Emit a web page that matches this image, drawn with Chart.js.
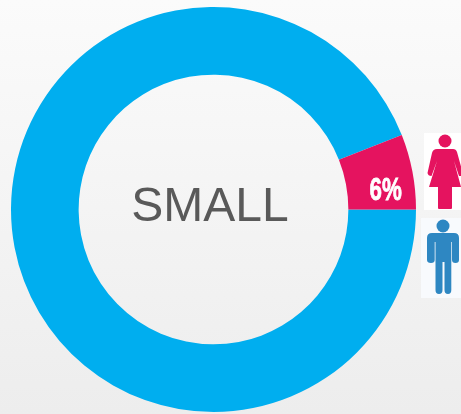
<!DOCTYPE html>
<html>
<head>
<meta charset="utf-8">
<script src="https://cdn.jsdelivr.net/npm/chart.js@4/dist/chart.umd.min.js"></script>
<style>
  html, body { margin: 0; padding: 0; }
  body { width: 461px; height: 414px; overflow: hidden; position: relative;
         background: linear-gradient(#fbfbfb, #ededed); }
  canvas { position: absolute; left: 0; top: 0; }
  .icon { position: absolute; display: block; }
</style>
</head>
<body>
<canvas id="ringChart" width="461" height="414"></canvas>

<!-- woman icon -->
<svg class="icon" style="left:424px;top:133px" width="37" height="77" viewBox="0 0 37 77">
  <rect width="37" height="77" fill="#ffffff"/>
  <g fill="#e5135f">
    <circle cx="21" cy="8" r="6.5"/>
    <path d="M13 16 H29 Q32 16 33 19 L38 37 L37 43 L35 43 L30 28 L37 54 H28 V75 Q28 76 27 76 H15 Q14 76 14 75 V54 H5 L13 28 L7.500 43 Q4 43 3.500 40 L8 20 Q9 16 13 16 Z"/>
  </g>
</svg>

<!-- man icon -->
<svg class="icon" style="left:421px;top:218px" width="40" height="80" viewBox="0 0 40 80">
  <rect width="40" height="80" fill="#f8fafd"/>
  <g fill="#2e87c2">
    <circle cx="22" cy="8" r="6.5"/>
    <path d="M11 15 H33 Q38 15 38 20 V42 Q38 45 34.500 45 Q31 45 31 42 V24 H30.300 V72 Q30.300 76 27 76 Q23.500 76 23.500 72 V44 H21.500 V72 Q21.500 76 18 76 Q14.500 76 14.500 72 V24 H13.700 V42 Q13.700 45 10 45 Q6 45 6 42 V20 Q6 15 11 15 Z"/>
  </g>
</svg>

<script>
const labels = ['Other', 'Women'];
const shares = [94, 6];
const sliceColors = ['#00aeef', '#e5135f'];
const centerTitle = 'SMALL';
const shareLabel = '6%';

// writes the size in the hole and the percentage on the pink slice
const ringText = {
  id: 'ringText',
  afterDatasetsDraw(chart) {
    const ctx = chart.ctx;
    const arc = chart.getDatasetMeta(0).data[1];
    ctx.save();
    ctx.textAlign = 'center';
    ctx.textBaseline = 'middle';
    ctx.fillStyle = '#595959';
    ctx.font = '48px "Liberation Sans"';
    ctx.fillText(centerTitle, arc.x - 3.5, arc.y - 2);
    const mid = (arc.startAngle + arc.endAngle) / 2;
    const r = (arc.innerRadius + arc.outerRadius) / 2;
    // narrow the bold face by hand, no condensed font is available
    ctx.translate(arc.x + r * Math.cos(mid) + 6.5, arc.y + r * Math.sin(mid) + 14);
    ctx.scale(0.72, 1);
    ctx.fillStyle = '#ffffff';
    ctx.strokeStyle = '#ffffff';
    ctx.lineWidth = 0.8;
    ctx.font = 'bold 31px "Liberation Sans"';
    ctx.fillText(shareLabel, 0, 0);
    ctx.strokeText(shareLabel, 0, 0);
    ctx.restore();
  }
};

const ringConfig = {
  type: 'doughnut',
  data: {
    labels: labels,
    datasets: [{
      data: shares,
      backgroundColor: sliceColors,
      borderWidth: 0
    }]
  },
  options: {
    responsive: false,
    animation: false,
    rotation: 90,
    cutout: '66.6%',
    layout: { padding: { left: 10, right: 44, top: 7, bottom: 2 } },
    plugins: {
      legend: { display: false },
      tooltip: { enabled: false }
    }
  },
  plugins: [ringText]
};

const ringChart = new Chart(document.getElementById('ringChart'), ringConfig);
</script>
</body>
</html>
